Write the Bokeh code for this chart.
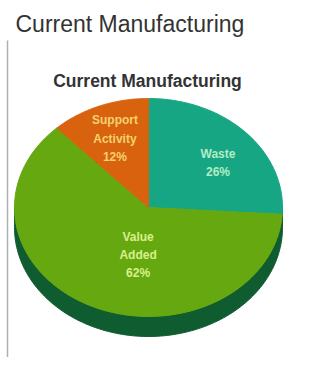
import numpy as np
from bokeh.plotting import figure
from bokeh.models import Range1d, ColumnDataSource
from bokeh.core.properties import value
from bokeh.embed import file_html
from bokeh.resources import INLINE

# ---- data ----
categories = ["Waste", "Value Added", "Support Activity"]
shares = [26, 62, 12]
label_text = ["Waste\n26%", "Value\nAdded\n62%", "Support\nActivity\n12%"]
page_title = "Current Manufacturing"
chart_title = "Current Manufacturing"

# ---- style / layout ----
colors = ["#17a683", "#66a80f", "#d9620e"]
label_colors = ["#b4ecc4", "#d8f08c", "#f2d26e"]
label_r = [0.66, 0.44, 0.68]
label_dang = [5, -15, 0]  # degrees
side_color = "#0e5c30"
cx, cy, a, b, depth = 148, 207, 134, 109, 20

W, H = 293, 357
p = figure(width=W, height=H, output_backend="svg", toolbar_location=None,
           x_range=Range1d(0, W), y_range=Range1d(H, 0),
           min_border=0, outline_line_color=None)
p.axis.visible = False
p.grid.visible = False
p.background_fill_color = "white"
p.border_fill_color = "white"

# left rule
p.segment(x0=[7], y0=[40], x1=[7], y1=[H], line_color="#b0b0b0", line_width=1.5)

# titles
p.text(x=[15], y=[23], text=[page_title], text_font=value("Liberation Sans"),
       text_font_size="23px", text_color="#333333", text_baseline="middle")
p.text(x=[147], y=[80], text=[chart_title], text_font=value("Liberation Sans"),
       text_font_size="17.5px", text_font_style="bold", text_color="#333333",
       text_align="center", text_baseline="middle")

# side band (3D depth)
t = np.linspace(np.pi / 2, 3 * np.pi / 2, 120)
xs_low = cx + a * np.sin(t)
ys_low = cy - b * np.cos(t) + depth
xs_side = np.concatenate([xs_low, xs_low[::-1]])
ys_side = np.concatenate([ys_low, ys_low[::-1] - depth])
p.patch(xs_side, ys_side, fill_color=side_color, line_color=side_color)

# top slices
fr = np.array(shares, dtype=float) / sum(shares)
ends = np.cumsum(fr) * 2 * np.pi
starts = ends - fr * 2 * np.pi
xs, ys, lx, ly = [], [], [], []
for s, e, r, d in zip(starts, ends, label_r, label_dang):
    th = np.linspace(s, e, 100)
    xs.append(np.concatenate([[cx], cx + a * np.sin(th), [cx]]))
    ys.append(np.concatenate([[cy], cy - b * np.cos(th), [cy]]))
    m = (s + e) / 2 + np.radians(d)
    lx.append(cx + r * a * np.sin(m))
    ly.append(cy - r * b * np.cos(m))
src = ColumnDataSource(dict(xs=xs, ys=ys, color=colors, cat=categories))
p.patches("xs", "ys", source=src, fill_color="color", line_color="color", line_width=1)

lsrc = ColumnDataSource(dict(x=lx, y=ly, text=label_text, color=label_colors))
p.text("x", "y", text="text", source=lsrc, text_color="color",
       text_font=value("Liberation Sans"), text_font_size="12px",
       text_font_style="bold", text_align="center", text_baseline="middle",
       text_line_height=1.3)

open("out.html", "w").write(file_html(p, INLINE))
